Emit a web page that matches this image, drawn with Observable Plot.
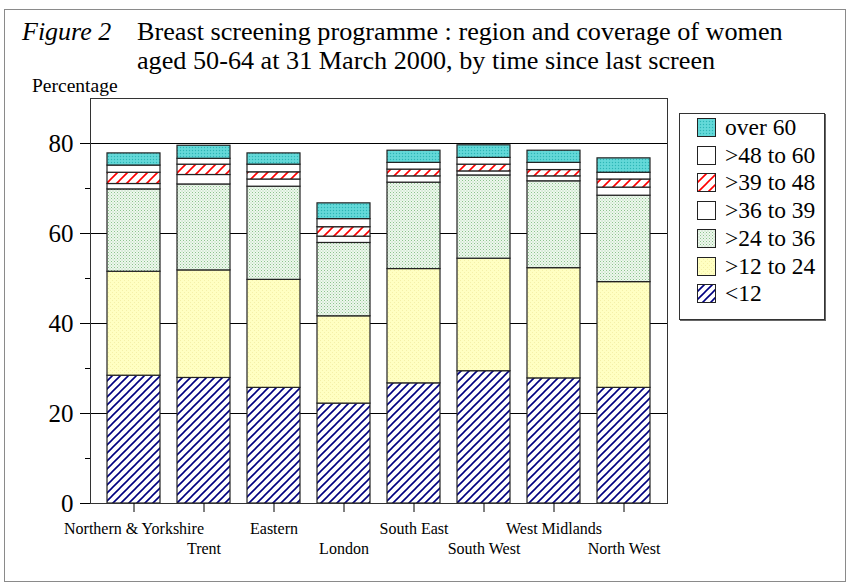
<!DOCTYPE html>
<html>
<head>
<meta charset="utf-8">
<script src="https://cdn.jsdelivr.net/npm/d3@7"></script>
<script src="https://cdn.jsdelivr.net/npm/@observablehq/plot@0.6"></script>
<style>
  body { margin: 0; background: #fff; font-family: "Liberation Serif", "Times New Roman", serif; color: #000; }
  #page { position: relative; width: 850px; height: 585px; overflow: hidden; }
  #border { position: absolute; left: 4px; top: 9px; width: 840px; height: 571px; border: 1px solid #8a8a8a; }
  #chart { position: absolute; left: 0; top: 0; }
  .t { position: absolute; white-space: nowrap; line-height: 1; font-family: "Liberation Serif", "Times New Roman", serif; }
  #legend { position: absolute; left: 679px; top: 113px; width: 144px; height: 205px; border: 1px solid #333; box-shadow: 1px 1px 0 #666; background: #fff; }
  .row { position: absolute; left: 17px; height: 18px; }
  .row svg { position: absolute; left: 0; top: 0; }
  .row span { position: absolute; left: 28px; top: -3px; font-size: 23.5px; line-height: 24px; white-space: nowrap; font-family: "Liberation Serif", "Times New Roman", serif; }
</style>
</head>
<body>
<svg width="0" height="0" style="position:absolute">
  <defs>
    <pattern id="pBlue" patternUnits="userSpaceOnUse" width="8" height="8">
      <rect width="8" height="8" fill="#fff"/>
      <path d="M-2,2 L2,-2 M0,8 L8,0 M6,10 L10,6" stroke="#000080" stroke-width="1.6"/>
    </pattern>
    <pattern id="pYellow" patternUnits="userSpaceOnUse" width="4" height="4">
      <rect width="4" height="4" fill="#ffffc2"/>
      <rect x="0" y="0" width="1" height="1" fill="#f4f0a8"/>
      <rect x="2" y="2" width="1" height="1" fill="#f4f0a8"/>
    </pattern>
    <pattern id="pGreen" patternUnits="userSpaceOnUse" width="3" height="3">
      <rect width="3" height="3" fill="#eef7ee"/>
      <rect x="0" y="0" width="1" height="1" fill="#8cc48c"/>
      <rect x="1.5" y="1.5" width="1" height="1" fill="#a8d4a8"/>
    </pattern>
    <pattern id="pRed" patternUnits="userSpaceOnUse" width="10" height="10">
      <rect width="10" height="10" fill="#fff"/>
      <path d="M-2,2 L2,-2 M0,10 L10,0 M8,12 L12,8" stroke="#ff0000" stroke-width="1.6"/>
    </pattern>
    <pattern id="pCyan" patternUnits="userSpaceOnUse" width="3" height="3">
      <rect width="3" height="3" fill="#5cd6d6"/>
      <rect x="0" y="0" width="1" height="1" fill="#30b4b4"/>
      <rect x="1.5" y="1.5" width="1" height="1" fill="#7fe0e0"/>
    </pattern>
  </defs>
</svg>
<div id="page">
  <div id="border"></div>
  <div id="chart"></div>
  <div class="t" style="left:22px; top:19px; font-size:26px;"><i>Figure 2</i></div>
  <div class="t" style="left:137px; top:19px; font-size:26.2px;">Breast screening programme : region and coverage of women</div>
  <div class="t" style="left:137px; top:48px; font-size:26.2px;">aged 50-64 at 31 March 2000, by time since last screen</div>
  <div class="t" style="left:32px; top:76px; font-size:19.5px;">Percentage</div>
  <div id="legend"></div>
</div>
<script>
// Categories
const regions = ["Northern & Yorkshire", "Trent", "Eastern", "London", "South East", "South West", "West Midlands", "North West"];
// Series (bottom to top)
const series = ["<12", ">12 to 24", ">24 to 36", ">36 to 39", ">39 to 48", ">48 to 60", "over 60"];
// Values (percentage of women) per region
const lt12     = [28.4, 27.9, 25.7, 22.2, 26.7, 29.4, 27.8, 25.7];
const m12to24  = [23.1, 23.9, 24.0, 19.4, 25.4, 25.0, 24.5, 23.5];
const m24to36  = [18.3, 19.1, 20.7, 16.3, 19.2, 18.5, 19.3, 19.2];
const m36to39  = [1.2, 2.1, 1.6, 1.4, 1.4, 0.9, 1.1, 1.8];
const m39to48  = [2.5, 2.3, 1.6, 2.1, 1.5, 1.5, 1.4, 1.8];
const m48to60  = [1.6, 1.3, 1.7, 1.8, 1.5, 1.5, 1.6, 1.5];
const over60   = [2.7, 2.9, 2.5, 3.5, 2.7, 2.8, 2.7, 3.2];
// Tick values
const majorTicks = [0, 20, 40, 60, 80];
const minorTicks = [10, 30, 50, 70];

const seriesValues = [lt12, m12to24, m24to36, m36to39, m39to48, m48to60, over60];
const fills = ["url(#pBlue)", "url(#pYellow)", "url(#pGreen)", "#ffffff", "url(#pRed)", "#ffffff", "url(#pCyan)"];

const table = series.flatMap((s, si) => regions.map((r, ri) => ({region: r, series: s, value: seriesValues[si][ri]})));

const chart = Plot.plot({
  width: 850,
  height: 585,
  marginLeft: 90,
  marginRight: 183,
  marginTop: 98,
  marginBottom: 82,
  style: {fontFamily: '"Liberation Serif", "Times New Roman", serif', background: "transparent", color: "#000"},
  x: {domain: regions, paddingInner: 0.25, paddingOuter: 0.24, axis: null, label: null},
  y: {domain: [0, 90], axis: null, label: null},
  color: {domain: series, range: fills},
  marks: [
    Plot.gridY([20, 40, 60, 80], {stroke: "#000", strokeOpacity: 1}),
    Plot.barY(table, {x: "region", y: "value", fill: "series", order: series, stroke: "#222", strokeWidth: 1.2}),
    Plot.frame({stroke: "#333"}),
    Plot.axisY({ticks: majorTicks, tickSize: 10, tickPadding: 7, fontSize: 25, label: null}),
    Plot.axisY({ticks: minorTicks, tickSize: 5, tickFormat: () => "", label: null}),
    Plot.axisX({ticks: regions.filter((d, i) => i % 2 === 0), tickSize: 9, tickPadding: 10, fontSize: 16, label: null}),
    Plot.axisX({ticks: regions.filter((d, i) => i % 2 === 1), tickSize: 9, tickPadding: 30, fontSize: 16, label: null})
  ]
});
document.getElementById("chart").append(chart);

// Legend (top to bottom = reverse stacking order)
const legend = document.getElementById("legend");
const legendOrder = series.map((s, i) => i).reverse();
legendOrder.forEach((si, k) => {
  const row = document.createElement("div");
  row.className = "row";
  row.style.top = (4 + k * 27.7) + "px";
  row.innerHTML = `<svg width="19" height="19"><rect x="0.5" y="0.5" width="18" height="18" fill="${fills[si]}" stroke="#222" stroke-width="1"/></svg><span></span>`;
  row.querySelector("span").textContent = series[si];
  legend.append(row);
});
</script>
</body>
</html>
